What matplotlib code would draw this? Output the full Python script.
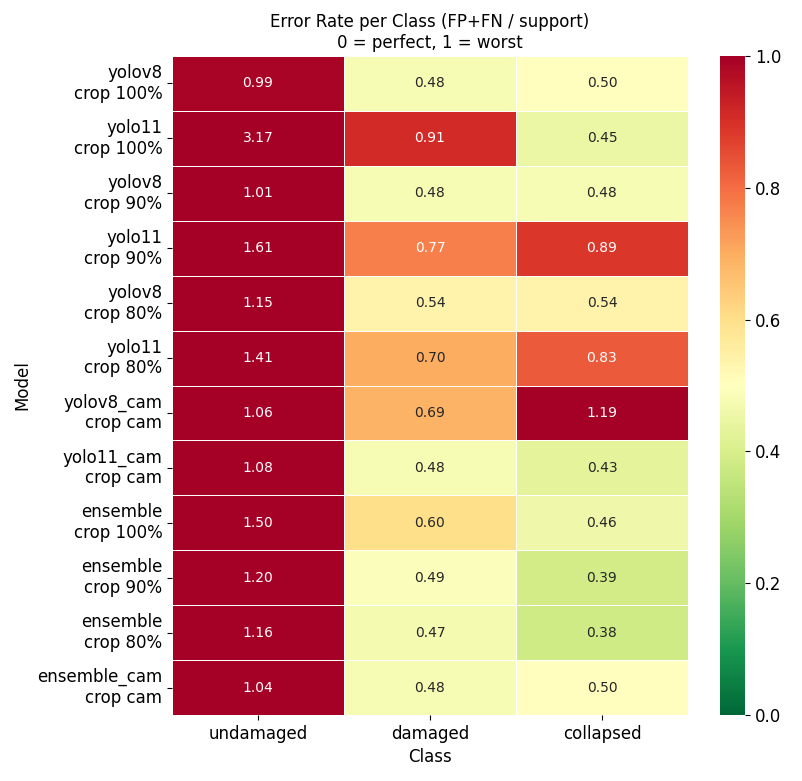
import numpy as np
import pandas as pd
import matplotlib
matplotlib.use("Agg")
import matplotlib.pyplot as plt
import seaborn as sns

models = ["yolov8\ncrop 100%", "yolo11\ncrop 100%", "yolov8\ncrop 90%", "yolo11\ncrop 90%",
          "yolov8\ncrop 80%", "yolo11\ncrop 80%", "yolov8_cam\ncrop cam", "yolo11_cam\ncrop cam",
          "ensemble\ncrop 100%", "ensemble\ncrop 90%", "ensemble\ncrop 80%", "ensemble_cam\ncrop cam"]
classes = ["undamaged", "damaged", "collapsed"]

undamaged = [0.99, 3.17, 1.01, 1.61, 1.15, 1.41, 1.06, 1.08, 1.50, 1.20, 1.16, 1.04]
damaged = [0.48, 0.91, 0.48, 0.77, 0.54, 0.70, 0.69, 0.48, 0.60, 0.49, 0.47, 0.48]
collapsed = [0.50, 0.45, 0.48, 0.89, 0.54, 0.83, 1.19, 0.43, 0.46, 0.39, 0.38, 0.50]

df = pd.DataFrame({"undamaged": undamaged, "damaged": damaged, "collapsed": collapsed},
                  index=models)[classes]

fig = plt.figure(figsize=(8.03, 7.81), dpi=100)
W, H = 803, 781
ax = fig.add_axes([172 / W, 1 - 715 / H, (688 - 172) / W, (715 - 56) / H])
cax = fig.add_axes([720 / W, 1 - 715 / H, 25 / W, (715 - 56) / H])
sns.heatmap(df, annot=True, fmt=".2f", cmap="RdYlGn_r", vmin=0, vmax=1,
            linewidths=0.5, linecolor="white", ax=ax, cbar_ax=cax,
            annot_kws={"fontsize": 10})
ax.set_title("Error Rate per Class (FP+FN / support)\n0 = perfect, 1 = worst", fontsize=12)
ax.set_xlabel("Class", fontsize=12)
ax.set_ylabel("Model", fontsize=12)
ax.tick_params(axis="both", labelsize=12)
cax.tick_params(labelsize=12)
plt.setp(ax.get_yticklabels(), rotation=0)
plt.savefig("out.png", dpi=100)
